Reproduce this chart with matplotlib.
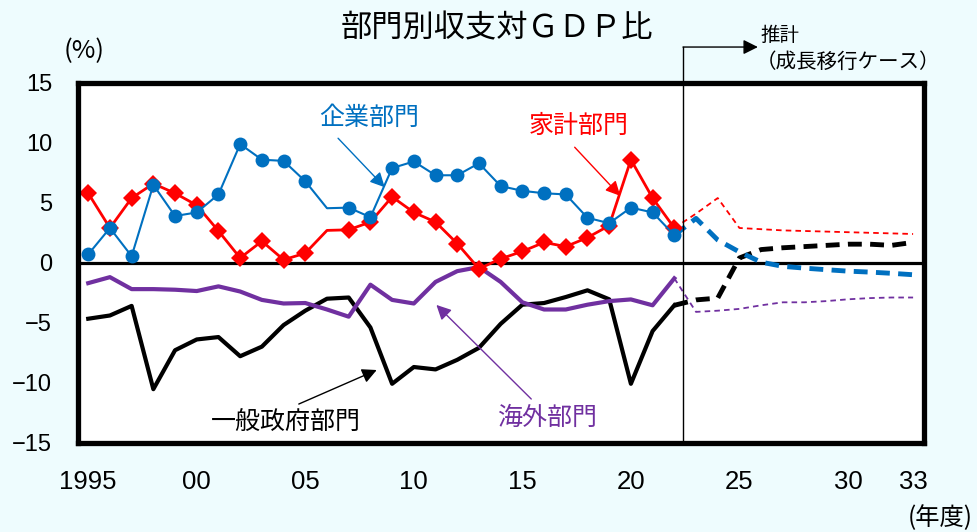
import matplotlib
matplotlib.use("Agg")
import matplotlib.pyplot as plt

plt.rcParams['font.family'] = ['Liberation Sans', 'Noto Sans CJK JP', 'DejaVu Sans']
plt.rcParams['lines.scale_dashes'] = False

# ---- data ----
years_act = list(range(1995, 2023))
corp_act = [0.7, 2.9, 0.55, 6.5, 3.9, 4.2, 5.7, 9.9, 8.6, 8.5, 6.8, 4.55, 4.6, 3.8,
            7.9, 8.45, 7.3, 7.3, 8.3, 6.4, 6.0, 5.8, 5.7, 3.75, 3.3, 4.6, 4.2, 2.3]
house_act = [5.8, 2.9, 5.4, 6.6, 5.8, 4.8, 2.65, 0.4, 1.8, 0.25, 0.8, 2.7, 2.75, 3.4,
             5.5, 4.2, 3.4, 1.6, -0.5, 0.33, 0.95, 1.7, 1.35, 2.1, 3.1, 8.6, 5.4, 2.9]
gov_act = [-4.67, -4.4, -3.6, -10.55, -7.3, -6.4, -6.2, -7.8, -7.0, -5.2, -4.0, -3.0, -2.9, -5.4,
           -10.1, -8.7, -8.9, -8.1, -7.1, -5.1, -3.5, -3.36, -2.86, -2.3, -3.05, -10.1, -5.7, -3.55]
over_act = [-1.7, -1.2, -2.2, -2.2, -2.25, -2.36, -1.97, -2.4, -3.1, -3.4, -3.36, -3.9, -4.5, -1.83,
            -3.1, -3.4, -1.6, -0.7, -0.36, -1.6, -3.3, -3.9, -3.9, -3.5, -3.2, -3.06, -3.55, -1.3]

years_fc = list(range(2022, 2034))
corp_fc = [2.3, 3.7, 1.9, 0.9, 0.05, -0.3, -0.45, -0.58, -0.7, -0.78, -0.88, -1.0]
house_fc = [2.9, 4.1, 5.4, 2.9, 2.8, 2.7, 2.65, 2.6, 2.55, 2.5, 2.45, 2.4]
gov_fc = [-3.55, -3.1, -2.95, 0.4, 1.1, 1.25, 1.35, 1.45, 1.55, 1.55, 1.45, 1.7]
over_fc = [-1.3, -4.1, -4.0, -3.85, -3.55, -3.3, -3.3, -3.2, -3.05, -2.95, -2.9, -2.9]

xtick_pos = [1995, 2000, 2005, 2010, 2015, 2020, 2025, 2030, 2033]
xtick_lab = ['1995', '00', '05', '10', '15', '20', '25', '30', '33']
ytick_pos = [15, 10, 5, 0, -5, -10, -15]

no_marker_year = 2006
forecast_start = 2022.4

# ---- colors ----
BLUE = '#0070C0'
RED = '#FF0000'
PURPLE = '#7030A0'
BLACK = '#000000'
BG = '#EEFCFE'

fig = plt.figure(figsize=(9.77, 5.32), dpi=100, facecolor=BG)
ax = fig.add_axes([0.0803, 0.1682, 0.9457 - 0.0803, 0.844 - 0.1682])
ax.set_facecolor('white')

ax.set_xlim(1994.55, 2033.5)
ax.set_ylim(-15, 15)

ax.axhline(0, color=BLACK, lw=2.3, zorder=2)

mk = [i for i, y in enumerate(years_act) if y != no_marker_year]

# forecast lines
ax.plot(years_fc, house_fc, color=RED, lw=1.3, dashes=(4, 3), zorder=3)
ax.plot(years_fc, over_fc, color=PURPLE, lw=1.3, dashes=(4, 3), zorder=3)
ax.plot(years_fc, gov_fc, color=BLACK, lw=3.5, dashes=(10, 6), zorder=3)
ax.plot(years_fc, corp_fc, color=BLUE, lw=3.5, dashes=(10, 6), zorder=3)

# actual lines
ax.plot(years_act, gov_act, color=BLACK, lw=3.0, zorder=4)
ax.plot(years_act, over_act, color=PURPLE, lw=3.0, zorder=4)
ax.plot(years_act, house_act, color=RED, lw=2.0, marker='D', ms=9, markevery=mk,
        markeredgewidth=0, zorder=5)
ax.plot(years_act, corp_act, color=BLUE, lw=1.5, marker='o', ms=10, markevery=mk,
        markeredgewidth=0, zorder=6)

# frame
for s in ax.spines.values():
    s.set_linewidth(3.8)
    s.set_color(BLACK)
    s.set_zorder(10)

ax.set_xticks(xtick_pos)
ax.set_xticklabels(xtick_lab)
ax.set_yticks(ytick_pos)
ax.tick_params(axis='both', length=0)
ax.tick_params(axis='x', pad=20, labelsize=18.5)
ax.tick_params(axis='y', pad=19, labelsize=17)

cjk = ['Noto Sans CJK JP', 'DejaVu Sans']

# title and axis notes
fig.text(0.509, 0.947, '部門別収支対ＧＤＰ比', ha='center', va='center', fontsize=22.5,
         family=cjk)
fig.text(0.086, 0.904, '(%)', ha='center', va='center', fontsize=18.5, family=cjk)
fig.text(0.962, 0.027, '(年度)', ha='center', va='center', fontsize=17.5, family=cjk)

# forecast marker
ax.plot([forecast_start, forecast_start], [-15, 18.0], color=BLACK, lw=1.0,
        clip_on=False, zorder=7)
ax.annotate('', xy=(2025.85, 18.0), xytext=(forecast_start, 18.0),
            arrowprops=dict(arrowstyle='-|>', color=BLACK, lw=1.0, mutation_scale=22,
                            shrinkA=0, shrinkB=0),
            annotation_clip=False)
ax.text(2025.95, 19.0, '推計', ha='left', va='center', fontsize=14, family=cjk,
        clip_on=False)
ax.text(2025.75, 16.75, '（成長移行ケース）', ha='left', va='center', fontsize=14.8,
        family=cjk, clip_on=False)

# series labels with arrows
def label(text, xy, xytext, tpos, color):
    ax.annotate('', xy=xy, xytext=xytext,
                arrowprops=dict(arrowstyle='-|>', color=color, lw=1.0, mutation_scale=22,
                                shrinkA=0, shrinkB=0), zorder=8)
    ax.text(tpos[0], tpos[1], text, ha='center', va='center', fontsize=18,
            color=color, family=cjk, zorder=8)

label('企業部門', (2008.66, 6.3), (2006.51, 10.39), (2007.92, 12.08), BLUE)
label('家計部門', (2019.51, 5.58), (2017.41, 9.64), (2017.59, 11.42), RED)
label('一般政府部門', (2008.29, -8.95), (2004.70, -11.79), (2004.1, -13.37), BLACK)
label('海外部門', (2011.04, -3.52), (2015.41, -11.37), (2016.12, -12.96), PURPLE)

fig.savefig('out.png', dpi=100, facecolor=BG)
